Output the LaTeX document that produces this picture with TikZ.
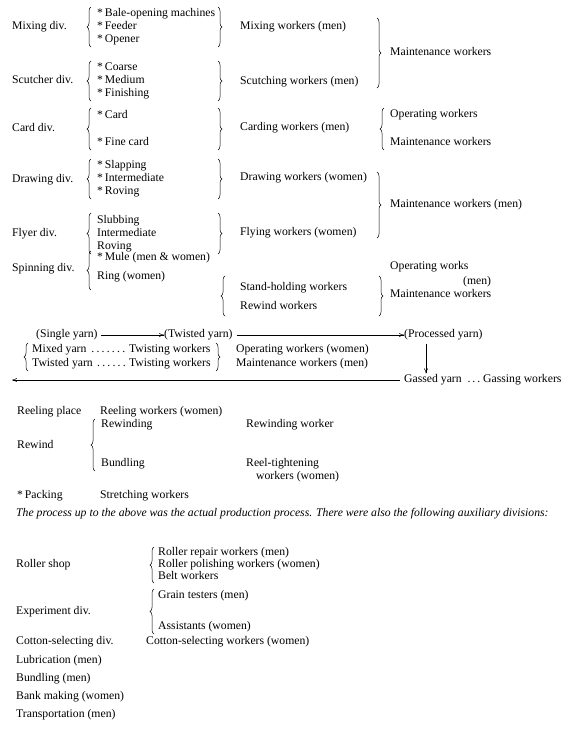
\documentclass[tikz,border=0pt]{standalone}
\usepackage{fontspec}
\setmainfont{Liberation Serif}
\usetikzlibrary{decorations.pathreplacing,arrows.meta}
\tikzset{
 t/.style={anchor=west, inner sep=0pt, text height=8.2pt, text depth=2.6pt, font=\fontsize{11.7}{13}\selectfont},
 lb/.style={decorate, decoration={brace, amplitude=4pt, aspect=0.5}, line width=0.5pt},
 arr/.style={-{To[length=5pt,width=4pt]}, line width=0.5pt},
}
\begin{document}
\begin{tikzpicture}[x=1pt,y=-1pt]
\useasboundingbox (0,0) rectangle (583,745);
% ---------- Mixing ----------
\node[t] (mix) at (12,27) {Mixing div.};
\node[t] (mix1) at (97,14) {*\,Bale-opening machines};
\node[t] (mix2) at (97,27) {*\,Feeder};
\node[t] (mix3) at (97,40) {*\,Opener};
\draw[lb] (91,47) -- (91,7);
\draw[lb] (218,7) -- (218,47);
\node[t] (mixw) at (240,27) {Mixing workers (men)};
% ---------- Scutcher ----------
\node[t] (scu) at (12,81) {Scutcher div.};
\node[t] (scu1) at (97,68) {*\,Coarse};
\node[t] (scu2) at (97,81) {*\,Medium};
\node[t] (scu3) at (97,94) {*\,Finishing};
\draw[lb] (91,101) -- (91,61);
\draw[lb] (218,61) -- (218,101);
\node[t] (scuw) at (240,82) {Scutching workers (men)};
\draw[lb] (377,18) -- (377,88);
\node[t] (mnt1) at (390,53) {Maintenance workers};
% ---------- Card ----------
\node[t] (car) at (12,129) {Card div.};
\node[t] (car1) at (97,116) {*\,Card};
\node[t] (car2) at (97,143) {*\,Fine card};
\draw[lb] (91,150) -- (91,108);
\draw[lb] (218,108) -- (218,150);
\node[t] (carw) at (240,128) {Carding workers (men)};
\draw[lb] (384,150) -- (384,108);
\node[t] (carop) at (390,115) {Operating workers};
\node[t] (carmn) at (390,143) {Maintenance workers};
% ---------- Drawing ----------
\node[t] (dra) at (12,180) {Drawing div.};
\node[t] (dra1) at (97,166) {*\,Slapping};
\node[t] (dra2) at (97,179) {*\,Intermediate};
\node[t] (dra3) at (97,192) {*\,Roving};
\draw[lb] (91,199) -- (91,159);
\draw[lb] (218,159) -- (218,199);
\node[t] (draw) at (240,178) {Drawing workers (women)};
% ---------- Flyer ----------
\node[t] (fly) at (12,234) {Flyer div.};
\node[t] (fly1) at (97,221) {Slubbing};
\node[t] (fly2) at (97,234) {Intermediate};
\node[t] (fly3) at (97,247) {Roving};
\draw[lb] (91,254) -- (91,213);
\draw[lb] (218,213) -- (218,254);
\node[t] (flyw) at (240,233) {Flying workers (women)};
\draw[lb] (377,172) -- (377,238);
\node[t] (mnt2) at (390,205) {Maintenance workers (men)};
% ---------- Spinning ----------
\node[t] (spi) at (12,269) {Spinning div.};
\node[t] (spi1) at (97,258) {*\,Mule (men \& women)};
\node[t] (spi2) at (97,277) {Ring (women)};
\draw[lb] (91,290) -- (91,251);
\draw[lb] (225,316) -- (225,276);
\node[t] (spiw1) at (240,288) {Stand-holding workers};
\node[t] (spiw2) at (240,307) {Rewind workers};
\draw[lb] (379,276) -- (379,316);
\node[t] (spiop) at (390,267) {Operating works};
\node[t] (spimen) at (463,282) {(men)};
\node[t] (spimn) at (390,295) {Maintenance workers};
% ---------- Yarn flow ----------
\node[t] (sy) at (36,335) {(Single yarn)};
\node[t] (ty) at (164,335) {(Twisted yarn)};
\node[t] (py) at (404,335) {(Processed yarn)};
\draw[arr] (sy.east) ++(3,0) -- (ty.west);
\draw[arr] (ty.east) ++(4,0) -- (py.west);
\node[t] (mxy) at (32,350) {\makebox[95pt][l]{Mixed yarn \dotfill}\,Twisting workers};
\node[t] (twy) at (32,364) {\makebox[95pt][l]{Twisted yarn \dotfill}\,Twisting workers};
\draw[lb] (28,371) -- (28,343);
\draw[lb] (216,343) -- (216,371);
\node[t] (twop) at (236,350) {Operating workers (women)};
\node[t] (twmn) at (236,364) {Maintenance workers (men)};
\node[t] (gy) at (404,380) {Gassed yarn\ \ .\,.\,.\ Gassing workers};
\coordinate (pyd) at ([xshift=22pt]py.south west);
\draw[arr] (pyd) ++(0,3) -- ([xshift=22pt,yshift=1pt]gy.north west);
\coordinate (lend) at (12,380);
\draw[arr] ([xshift=-4pt]gy.west) -- (lend);
% ---------- Reeling ----------
\node[t] (ree) at (17,412) {Reeling place};
\node[t] (reew) at (100,412) {Reeling workers (women)};
\node[t] (rew) at (17,446) {Rewind};
\draw[lb] (95,471) -- (95,419);
\node[t] (rew1) at (101,425) {Rewinding};
\node[t] (rew1w) at (246,425) {Rewinding worker};
\node[t] (rew2) at (101,464) {Bundling};
\node[t] (rew2w) at (246,464) {Reel-tightening};
\node[t] (rew2w2) at (256,477) {workers (women)};
\node[t] (pac) at (17,496) {*\,Packing};
\node[t] (pacw) at (100,496) {Stretching workers};
\node[t] (sen) at (16,514) {\itshape The process up to the above was the actual production process. There were also the following auxiliary divisions:};
% ---------- Auxiliary ----------
\node[t] (rol) at (16,565) {Roller shop};
\draw[lb] (154,583) -- (154,547);
\node[t] (rol1) at (158,553) {Roller repair workers (men)};
\node[t] (rol2) at (158,565) {Roller polishing workers (women)};
\node[t] (rol3) at (158,577) {Belt workers};
\node[t] (exp) at (16,612) {Experiment div.};
\draw[lb] (154,634) -- (154,589);
\node[t] (exp1) at (158,596) {Grain testers (men)};
\node[t] (exp2) at (158,627) {Assistants (women)};
\node[t] (cot) at (16,642) {Cotton-selecting div.};
\node[t] (cotw) at (146,642) {Cotton-selecting workers (women)};
\node[t] (lub) at (16,661) {Lubrication (men)};
\node[t] (bun) at (16,679) {Bundling (men)};
\node[t] (ban) at (16,697) {Bank making (women)};
\node[t] (tra) at (16,715) {Transportation (men)};
\end{tikzpicture}
\end{document}
